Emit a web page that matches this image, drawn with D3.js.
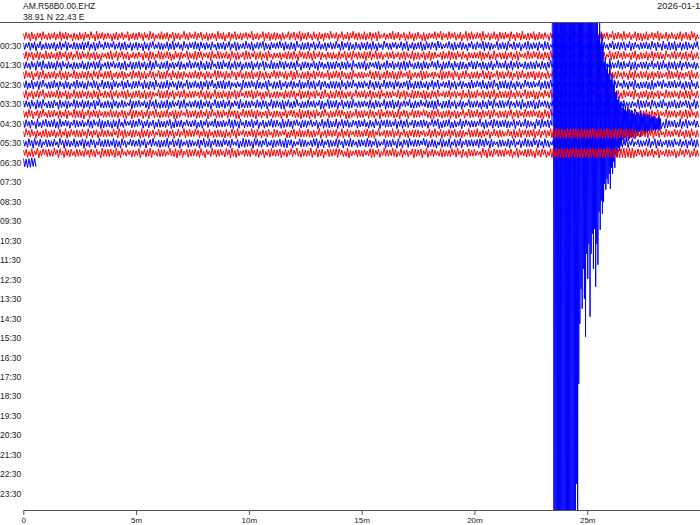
<!DOCTYPE html>
<html>
<head>
<meta charset="utf-8">
<script src="https://cdn.jsdelivr.net/npm/d3@7"></script>
<style>
  body { margin: 0; background: #fff; }
  text { font-family: "Liberation Sans", Arial, sans-serif; fill: #222; }
</style>
</head>
<body>
<svg width="700" height="525"></svg>
<script>
// header
const stationId = "AM.R58B0.00.EHZ";
const stationCoords = "38.91 N 22.43 E";
const dayLabel = "2026-01-10";

// one label every hour, on the half-hour rows
const rowLabels = ["00:30","01:30","02:30","03:30","04:30","05:30","06:30","07:30",
    "08:30","09:30","10:30","11:30","12:30","13:30","14:30","15:30",
    "16:30","17:30","18:30","19:30","20:30","21:30","22:30","23:30"];

const rowColors = ["#ff0000", "#0000ff"];

// 30-minute rows, 240 bins each: positive peak level per bin (0-9)
const peaksUp = [
    "4637254815 3628474152 6372819463 5247361825 4736295148 3627451936 2847163529 4617382546 3925184736 5261847395 4718263549 3628175946 2837469152 5947261834 7162538495 3846271958 2649153827 5738264915 4827361549 3618274956 5247183629 4739261854 3826495172 6148372951",
    "5364728153 4627385164 3758264917 5382647153 6427358164 2739461825 5847362715 4638275149 3726584163 5847263915 4637281546 3928475162 6473825194 3562748163 5728364951 4836275148 2739564183 6482735169 3547286154 7362845913 4528376149 3657284615 5738462917 4826375158",
    "3746285193 6258374619 4827365142 5938472615 3628475196 4751836294 2867345918 5372846159 6384725914 3526748195 4839275164 6172845936 3758294615 4826375194 5273846158 3964827153 6485371925 4736285149 3857264918 5628473159 4372856194 6837245915 3728465191 5846372915",
    "4627385916 5384726153 3826475914 6472538164 5736284915 4825376149 3648275916 5937284615 4726385194 3857264915 6428375164 5736482915 4825367149 3726485913 6385274916 4827365158 5736248194 3928475163 6482735914 5736284195 4826375164 3957284615 5638274916 4728365153",
    "5836274915 4728365194 3647285916 6825374159 4736285194 5928374615 3846275198 6372845916 4825736149 5637284915 3728465193 6847325914 5328476159 4736825914 3867245196 5738426915 4629375184 6385274915 5736428194 4827365915 3648275194 5736284916 4826375149 6385247915",
    "3728465914 5836274159 4627385194 6385274916 5728364915 4836275194 3726485916 6847325194 5738426915 4826375194 3957284616 5638274915 4728365194 6385247916 5726384915 4836275149 3748265916 5837264195 4628375914 6374825916 3846275194 5728365914 4638275916 5837264915",
    "4826375915 6385274194 5736284916 3847265914 6728354196 4837265915 5638274194 3726485916 6847325914 5328476195 4736825916 3867245194 5738426915 4629375186 6385274915 5736428194 4827365916 3648275195 5736284914 4826375196 6385247915 3728465914 5836274195 4627385916",
    "5637284915 4728365196 3846275914 6385274195 5726384916 4836275915 3748265194 5837264916 4628375195 6374825914 3846275196 5728365915 4638275194 5837264916 3728465915 5836274194 4627385916 6385274915 5728364196 4836275914 3726485915 6847325196 5738426914 4826375195",
    "6385274916 4736285195 5928374614 3846275196 6372845915 4825736194 5637284916 3728465195 6847325914 5328476196 4736825915 3867245194 5738426916 4629375185 6385274914 5736428196 4827365915 3648275194 5736284916 4826375195 6385247914 3728465916 5836274195 4627385914",
    "4736291584 5829364175 3618472953 6274918356 4953726184 3581946273 5716382494 4629573816 3847162595 6193845726 5472618394 3928571646 4816293757 5293748166 3674185925 6815294735 4391726854 5742836195 3186947525 6527314896 4938162575 3765294816 5284736195 4619385274",
    "3947261583 5618293746 4729356184 6183947256 5294736185 3746182957 4862937156 5371849263 3958264718 6247158394 4836291575 5719384266 3684729155 4927183566 6351849274 3748265195 5926371846 4183729565 5827364989 8979989897 9898797989 8997989536 4729365184 3857264915",
    "5284937165 3719465283 4862751936 6395284175 3748169254 5927386146 4165928375 3854716296 6287349155 4739562186 5148937265 3862749516 6495283174 4728165936 5396274186 3817492656 4685937215 5274816396 3956284175 6418735925 4827369156 5734928164 3692847155 4817263956",
    "4618293757 3957284616 5284736195 6749281534 3826594175 5193847266 4738162955 6285937146 3947261585 5716384926 4392857166 6874193255 3528746195 4961835276 5739264185 3485926174 6219483755 4837195266 6284751899 7989899789 8998978998 9789899475 5937284165 3628475194",
    "86798"
];

// negative peak level per bin (0-9)
const peaksDown = [
    "5294817365 2738461957 4816295374 3957261846 6182749355 4829361572 3617485294 5928364715 2746193857 4851627394 6273849152 3916482575 5748293164 4627185395 3895246171 6417392855 4286173594 5193827466 3764518295 6829374155 2957483616 4385162979 5716284393 3649257184",
    "6183927455 3947182566 5728394162 4163857293 7294815366 3857149262 5492637185 4718296353 6935184724 3284759166 5817364925 4296185737 3748592616 6152849375 4973618252 3586274915 6249385174 4815729366 5392847165 2847361958 6195483726 4738295164 3562918477 5928473616",
    "4918273655 3685194726 6247385914 5729164835 4183957266 3596284174 6827149355 4359286175 5174839263 3826574914 6495182736 4752938164 5938264715 3617482596 6284953175 4857162934 3496275816 5728491365 4165839274 6937254815 3582946176 5274183965 4839265715 3617592846",
    "5372918465 4829163756 3685274915 6143859276 4728395164 5936184725 3294857166 6158372945 4827193565 5372648194 3815926475 6284739155 4951368274 3728594165 5846127395 4392865716 6175938244 3849261575 5627493186 4183759265 6928347154 3574196825 4716285395 5839162474",
    "6249183755 3718592466 5483917265 4926385174 3857249166 6193758245 4572836194 3846192575 5729384616 4158297365 6837145295 3492678154 5216839475 4785316925 3964271585 5381946275 4726593184 6159284375 3948275166 5627138495 4385962715 6172849355 3958264176 5284719365",
    "4857293166 5392748165 3681549275 6924185375 4175839266 5823946175 3469281575 6738152945 4285739166 5916284375 3748192565 6492835174 5173948265 3826519475 6549283714 4938172565 3275846195 5684927315 4319576285 6825394174 3947268155 5163829475 4798316255 3526948175",
    "5928361745 3485197266 6274839155 4916258375 3758492166 5829163745 4163958275 6397284155 3851972646 5274639185 4926185375 6385729144 3729548165 5148293675 4695837215 3826194575 6147382955 4593726185 3982615475 5736248195 4218396575 6584139275 3957281646 4283759165",
    "4382957166 6195384275 3748291565 5827463195 4316928575 6953184725 3587249166 4729318565 5164839275 3892574165 6435198275 4918376255 3276845195 5849231675 4136598275 6728394155 3594817265 5281639475 4973258165 3658194275 6249837155 4817362595 5392746185 3764159285",
    "5739184265 4286391575 6918347255 3547268195 5283916475 4729851365 3865294175 6174389255 4593718265 3827146595 5948263175 4361985275 6284719355 3759248165 5126893475 4938517265 3685294175 5819372645 4267938155 6493152875 3718465295 5284936175 4956281375 3629485175",
    "6381947255 4795238165 3526814975 5849362175 4183729565 6297548135 3958162475 5426938175 4719285365 3864591275 6152938475 4927365185 3584719265 5293846175 4638152975 3875294165 5149628375 4762915385 3928547165 6314829575 4597263185 3842719565 5126394875 4759382165",
    "5162938475 3847295165 6293718455 4518296375 3964827155 5729361845 4183592765 6847293155 3592846175 5218739465 4675192835 3948271565 5386914275 4729158365 6153847295 3927584165 5684192375 4239857165 4928173898 9798989979 8979899898 9897989463 5829371645 4163958275",
    "4739258165 5281946375 3947182565 6385927145 4729163585 5816394275 3492758165 6148239575 4925716385 3578294165 5263948175 4819356275 3657284195 6294817355 4138569275 5927381645 3846295175 4592718365 6183947255 3759264185 5428193675 4973825165 3582946175 6147392585",
    "3857294165 5192846375 4628371955 6384925175 3917482565 5246938175 4583916275 3729584165 6158293745 4937261585 5382749165 3816594275 6249718355 4573826195 3918462575 5627193845 4283957165 6159382475 5937284989 8999789897 9879989879 8989799527 4638291575 3952718465",
    "79867"
];

// earthquake on the 04:30 row, peak level (counts) every 0.05 min from 23.5 min
const eventRow = 9;
const eventStart = 23.5;
const eventStep = 0.05;
const eventAmp = [880,880,880,880,880,880,880,880,880,880,880,880,880,880,880,880,880,880,
    840,880,720,800,520,400,330,370,290,350,426,260,310,240,386,260,220,290,210,326,240,282,
    176,212,154,180,156,120,132,110,120,100,130,88,100,76,88,62,66,48,54,40,44,
    32,40,28,36,24,34,30,22,28,26,20,30,18,24,22,16,26,20,14,22,18,16,20,14,18,12,16,14,12,16,
    12,10,14,12,10];

const majorTicks = [0, 5, 10, 15, 20, 25];
const minorTicks = d3.range(1, 30).filter(m => m % 5 !== 0);

const svg = d3.select("svg"),
    width = +svg.attr("width"),
    height = +svg.attr("height");

const x = d3.scaleLinear().domain([0, 30]).range([23.3, 700]);
const y = d3.scaleLinear().domain([-1.45, 48.65]).range([22, 510]);
const level = d3.scaleLinear().domain([0, 9]).range([1.2, 4.9]);   // noise peak -> px
const amp = d3.scaleLinear().domain([0, 10]).range([0, 5]);         // event counts -> px

const binsPerRow = 240;
const dt = 30 / binsPerRow;

// each bin drawn as an up stroke then a down stroke (helicorder style)
function rowPoints(k) {
    const up = peaksUp[k].replace(/ /g, ""),
        dn = peaksDown[k].replace(/ /g, "");
    const bins = d3.range(Math.min(up.length, dn.length))
        .map(i => ({ t: i * dt, step: dt, hi: level(+up[i]), lo: level(+dn[i]) }));
    let all = bins;
    if (k === eventRow) {
        const eventEnd = eventStart + eventAmp.length * eventStep;
        const quake = eventAmp.map((c, j) => ({
            t: eventStart + j * eventStep, step: eventStep, hi: amp(c), lo: amp(c)
        }));
        all = bins.filter(b => b.t < eventStart)
            .concat(quake, bins.filter(b => b.t >= eventEnd));
    }
    return all.flatMap(b => [
        [x(b.t), y(k) - b.hi],
        [x(b.t + b.step / 2), y(k) + b.lo]
    ]);
}

// header lines
svg.append("text").attr("x", 23).attr("y", 9).attr("font-size", 8.5).text(stationId);
svg.append("text").attr("x", 23).attr("y", 19.5).attr("font-size", 8.5).text(stationCoords);
svg.append("text").attr("x", 657).attr("y", 9).attr("font-size", 9.5).text(dayLabel);

svg.append("line")
    .attr("x1", 0).attr("x2", width)
    .attr("y1", 22.5).attr("y2", 22.5)
    .style("stroke", "#555")
    .style("stroke-width", 1);

// clip the traces to the plot area
svg.append("clipPath").attr("id", "plot")
    .append("rect")
    .attr("x", x(0)).attr("y", 23)
    .attr("width", x(30) - x(0)).attr("height", 510 - 23);

const g = svg.append("g").attr("clip-path", "url(#plot)");

peaksUp.forEach((_, k) => {
    g.append("path")
        .attr("d", d3.line()(rowPoints(k)))
        .style("fill", "none")
        .style("stroke", rowColors[k % 2])
        .style("stroke-width", 1);
});

// hour labels
svg.append("g")
    .selectAll("text")
    .data(rowLabels)
    .join("text")
    .attr("x", 0)
    .attr("y", (d, i) => y(2 * i + 1))
    .attr("dy", "0.35em")
    .attr("font-size", 8.5)
    .text(d => d);

// time axis
const axisG = svg.append("g").attr("transform", "translate(0,510)");
axisG.call(d3.axisBottom(x).tickValues(minorTicks).tickSize(3).tickSizeOuter(0).tickFormat(""));
axisG.call(d3.axisBottom(x).tickValues(majorTicks).tickSize(5).tickSizeOuter(0)
    .tickFormat(d => d === 0 ? "0" : d + "m"));
axisG.selectAll("path, line").style("stroke", "#555");
axisG.selectAll("text")
    .attr("font-size", 8)
    .attr("y", 7)
    .style("font-family", "'Liberation Sans Narrow', 'Arial Narrow', sans-serif")
    .style("fill", "#222");
</script>
</body>
</html>
